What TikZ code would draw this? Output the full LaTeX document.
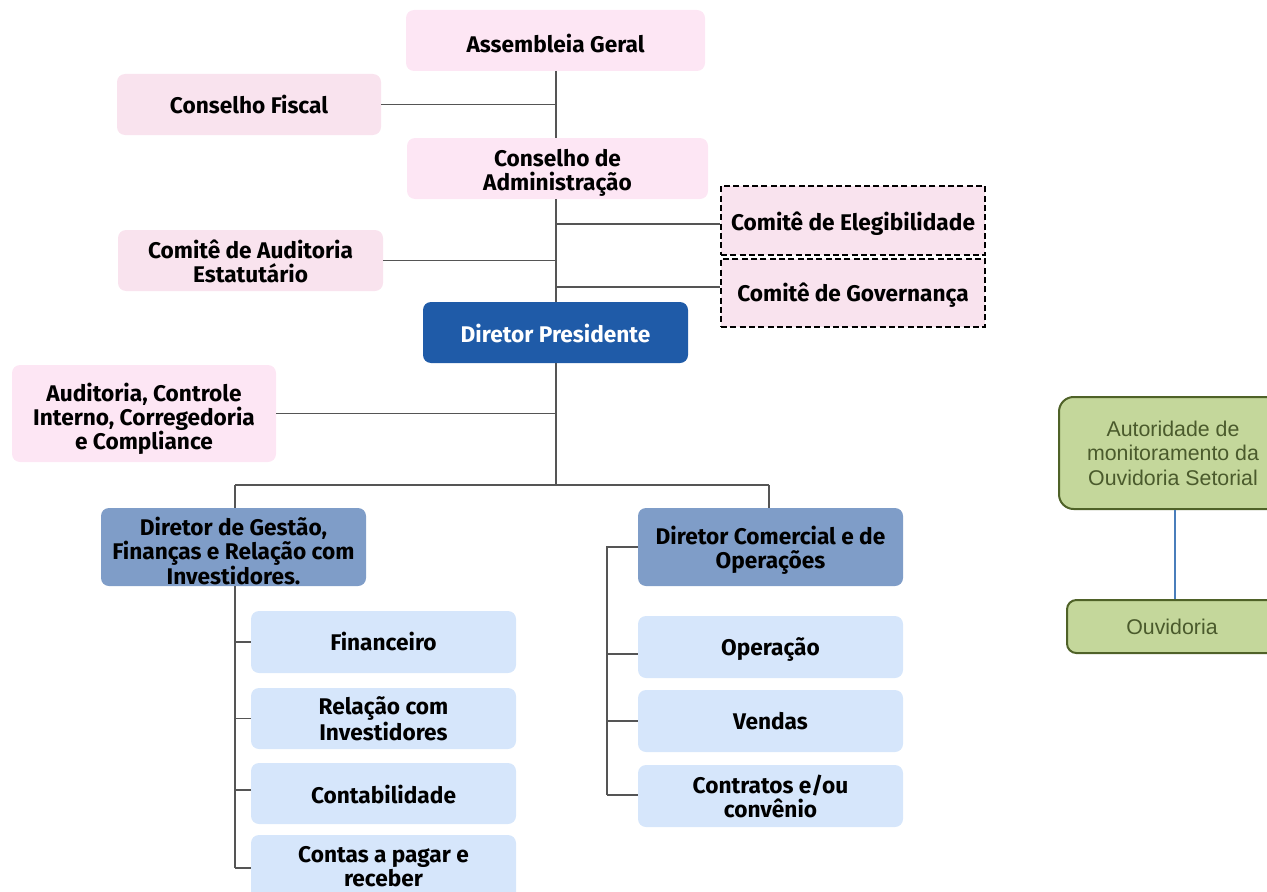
\documentclass[tikz,border=0pt]{standalone}
\usepackage{fontspec}
\setmainfont{Fira Sans}
\newfontfamily\greenfont{Liberation Sans}
\definecolor{pinkA}{HTML}{FDE6F4}
\definecolor{pinkB}{HTML}{F9E3EE}
\definecolor{dpblue}{HTML}{1F5BA8}
\definecolor{dirblue}{HTML}{7F9DC8}
\definecolor{childblue}{HTML}{D6E6FB}
\definecolor{greenfill}{HTML}{C4D79B}
\definecolor{greenline}{HTML}{4F6228}
\definecolor{greentext}{HTML}{4A5A2C}
\definecolor{conn}{HTML}{555555}
\definecolor{bluelink}{HTML}{4A7EBB}
% #1 name, #2-#5 box corners (px), #6 box style, #7 text style, #8 text shift down (px), #9 text
\newcommand{\bx}[9]{%
  \pgfmathsetmacro{\bxcx}{(#2+#4)/2}\pgfmathsetmacro{\bxcy}{(#3+#5)/2}%
  \pgfmathsetmacro{\bxw}{(#4-#2)*0.75}\pgfmathsetmacro{\bxh}{(#5-#3)*0.75}%
  \pgfmathsetmacro{\bxty}{(#3+#5)/2+#8}%
  \node[#6, minimum width=\bxw pt, minimum height=\bxh pt] (#1) at (\bxcx,\bxcy) {};
  \node[#7] (#1t) at (\bxcx,\bxty) {#9};}
\tikzset{
  shp/.style={rounded corners=6pt, inner sep=0pt},
  pinkbox/.style={shp, fill=pinkA},
  pinkbox2/.style={shp, fill=pinkB},
  dashbox/.style={shp, rounded corners=0pt, fill=pinkB, draw=black, line width=1.4pt, dash pattern=on 4.5pt off 2.5pt},
  presbox/.style={shp, fill=dpblue},
  dirbox/.style={shp, fill=dirblue},
  childbox/.style={shp, fill=childblue},
  greenbox/.style={rounded corners=11pt, inner sep=0pt, fill=greenfill, draw=greenline, line width=1.5pt},
  txt/.style={inner sep=0pt, align=center, font=\fontsize{17}{18}\selectfont\bfseries},
  wtxt/.style={txt, text=white},
  gtxt/.style={inner sep=0pt, align=center, text=greentext, font=\greenfont\fontsize{16}{18.4}\selectfont},
  link/.style={draw=conn, line width=1.4pt},
}
\begin{document}
\begin{tikzpicture}[x=0.75pt, y=-0.75pt]
\useasboundingbox (0,0) rectangle (1267,892);
% top part
\bx{ag}{406}{10}{705}{71}{pinkbox}{txt}{3}{Assembleia Geral}
\bx{cf}{117}{74}{381}{135}{pinkbox2}{txt}{0}{Conselho Fiscal}
\bx{cda}{407}{138}{708}{199}{pinkbox}{txt}{4}{Conselho de\\Administração}
\bx{ce}{721}{186}{985}{255}{dashbox}{txt}{3}{Comitê de Elegibilidade}
\bx{cg}{721}{259}{985}{327}{dashbox}{txt}{2}{Comitê de Governança}
\bx{cae}{118}{230}{383}{291}{pinkbox2}{txt}{1}{Comitê de Auditoria\\Estatutário}
\bx{dp}{423}{302}{688}{363}{presbox}{wtxt}{1}{Diretor Presidente}
\bx{acc}{12}{365}{276}{462}{pinkbox}{txt}{5}{Auditoria, Controle\\Interno, Corregedoria\\e Compliance}
% directors
\bx{dg}{101}{508}{366}{586}{dirbox}{txt}{4}{Diretor de Gestão,\\Finanças e Relação com\\Investidores.}
\bx{dc}{638}{508}{903}{586}{dirbox}{txt}{3}{Diretor Comercial e de\\Operações}
% left children
\bx{fin}{251}{611}{516}{673}{childbox}{txt}{-1}{Financeiro}
\bx{ri}{251}{688}{516}{749}{childbox}{txt}{0}{Relação com\\Investidores}
\bx{cont}{251}{763}{516}{824}{childbox}{txt}{1}{Contabilidade}
\bx{cpr}{251}{835}{516}{901}{childbox}{txt}{-1}{Contas a pagar e\\receber}
% right children
\bx{op}{638}{616}{903}{678}{childbox}{txt}{2}{Operação}
\bx{ven}{638}{690}{903}{752}{childbox}{txt}{0}{Vendas}
\bx{ctr}{638}{765}{903}{827}{childbox}{txt}{0}{Contratos e/ou\\convênio}
% green
\bx{aut}{1059}{397}{1287}{509}{greenbox}{gtxt}{0}{Autoridade de\\monitoramento da\\Ouvidoria Setorial}
\bx{ouv}{1067}{600}{1277}{653}{greenbox, rounded corners=7pt}{gtxt}{0}{Ouvidoria}

% trunk
\coordinate (tA) at (556,71);
\coordinate (t1) at (556,224);
\coordinate (t2) at (556,287);
\coordinate (bus) at (556,485);
\draw[link] (tA) -- (tA |- cda.north);
\draw[link] (tA |- cda.south) -- (tA |- dp.north);
\draw[link] (tA |- dp.south) -- (bus);
\draw[link] (cf.east) -- (cf.east -| tA);
\draw[link] (t1) -- (t1 -| ce.west);
\draw[link] (t2) -- (t2 -| cg.west);
\draw[link] (cae.east) -- (cae.east -| tA);
\draw[link] (acc.east) -- (acc.east -| tA);
% bus
\coordinate (bl) at (235,485);
\coordinate (br) at (769,485);
\draw[link] (bl) -- (br);
\draw[link] (bl) -- (bl |- dg.north);
\draw[link] (br) -- (br |- dc.north);
% left branch
\coordinate (lv) at (235,586);
\draw[link] (lv) -- (lv |- cpr.west);
\draw[link] (fin.west) -- (fin.west -| lv);
\draw[link] (ri.west) -- (ri.west -| lv);
\coordinate (l3) at (235,790);
\draw[link] (l3) -- (l3 -| cont.west);
\draw[link] (cpr.west) -- (cpr.west -| lv);
% right branch
\coordinate (rv) at (607,547);
\coordinate (r1) at (607,654);
\coordinate (r2) at (607,721);
\coordinate (r3) at (607,795);
\draw[link] (dc.west) -- (rv) -- (r3);
\draw[link] (r1) -- (r1 -| op.west);
\draw[link] (r2) -- (r2 -| ven.west);
\draw[link] (r3) -- (r3 -| ctr.west);
% green link
\coordinate (gx) at (1175,0);
\draw[draw=bluelink, line width=1.2pt] (aut.south -| gx) -- (ouv.north -| gx);
\end{tikzpicture}
\end{document}
